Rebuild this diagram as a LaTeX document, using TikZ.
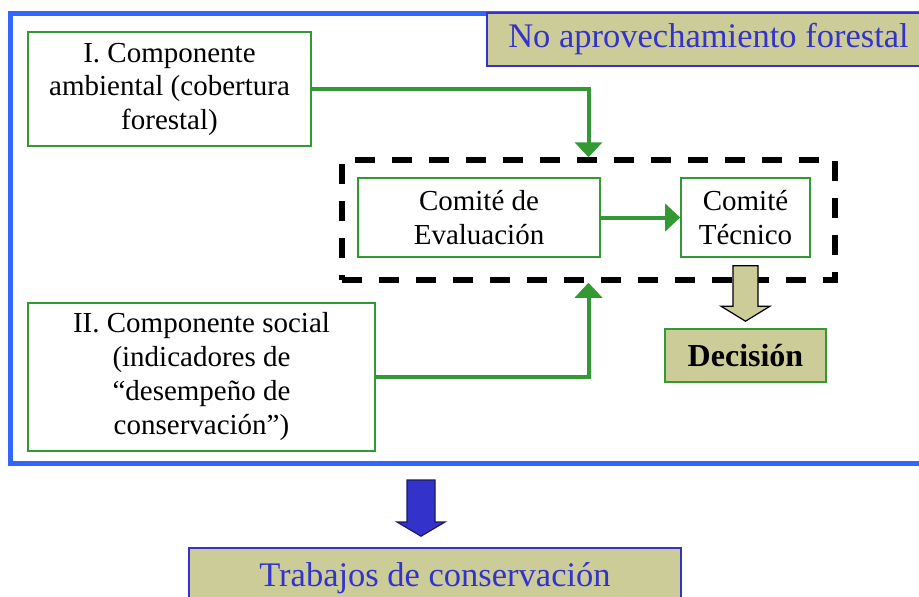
\documentclass[tikz,border=0pt]{standalone}
\usepackage{fontspec}
\setmainfont{Liberation Serif}
\usetikzlibrary{arrows.meta,calc}
\definecolor{grn}{HTML}{339933}
\definecolor{frameblue}{HTML}{3366FF}
\definecolor{txtblue}{HTML}{3333CC}
\definecolor{olive}{HTML}{CCCC99}
\definecolor{navy}{HTML}{1A1A66}
\tikzset{
  gbox/.style={draw=grn, line width=1.6pt, fill=white, inner sep=0pt, align=center,
    font=\fontsize{29}{33.5}\selectfont},
  conn/.style={draw=grn, line width=4pt, -{Triangle[length=15pt,width=27pt]}},
  titlebox/.style={draw=txtblue, line width=1.6pt, fill=olive, inner sep=0pt, align=center,
    text=txtblue, font=\fontsize{34.5}{40}\selectfont},
  decbox/.style={draw=grn, line width=1.6pt, fill=olive, inner sep=0pt,
    font=\fontsize{32}{38}\selectfont\bfseries},
  dashbox/.style={draw=black, line width=5.5pt, dash pattern=on 20pt off 17pt, inner sep=0pt},
  oarrow/.style={draw=black, line width=1.2pt, fill=olive, line join=miter},
  barrow/.style={draw=navy, line width=1.2pt, fill=txtblue, line join=miter}
}
\begin{document}
\begin{tikzpicture}[x=1pt,y=-1pt]
\useasboundingbox (0,0) rectangle (919,597);
\clip (0,0) rectangle (919,597);
% outer blue frame
\draw[frameblue, line width=5pt] (10,13) rectangle (945,463);
% title box
\node[titlebox, minimum width=443pt, minimum height=53pt] (title) at (708.5,39.5) {No aprovechamiento forestal};
% boxes
\node[gbox, minimum width=283pt, minimum height=114pt] (b1) at (169.5,89) {I. Componente\\ambiental (cobertura\\forestal)};
\node[dashbox, minimum width=493pt, minimum height=120pt] (dash) at (588.5,220) {};
\node[gbox, minimum width=242pt, minimum height=79pt] (ce) at (479,217.5) {Comité de\\Evaluación};
\node[gbox, minimum width=129pt, minimum height=79pt] (ct) at (745.5,217.5) {Comité\\Técnico};
\node[gbox, font=\fontsize{29}{34}\selectfont, minimum width=347pt, minimum height=148pt] (b2) at (201.5,377) {II. Componente social\\(indicadores de\\“desempeño de\\conservación”)};
\node[decbox, minimum width=161pt, minimum height=53pt] (dec) at (745.5,355.5) {Decisión};
\node[titlebox, minimum width=492pt, minimum height=60pt] (trab) at (435,578) {Trabajos de conservación};
% connectors
\draw[conn] (b1.east) -| (dash.north);
\draw[conn] (b2.east) -| (dash.south);
\draw[conn] (ce.east) -- (ct.west);
% olive block arrow
\draw[oarrow] ($(ct.south)+(-12.5,8)$) -- ($(ct.south)+(12.5,8)$) -- ($(dec.north)+(12.5,-22)$)
  -- ($(dec.north)+(24.5,-22)$) -- ($(dec.north)+(0,-7)$) -- ($(dec.north)+(-24.5,-22)$)
  -- ($(dec.north)+(-12.5,-22)$) -- cycle;
% blue block arrow
\coordinate (bt) at (421,480);
\draw[barrow] ($(bt)+(-14,0)$) -- ($(bt)+(14,0)$) -- ($(bt)+(14,42)$) -- ($(bt)+(24,42)$)
  -- ($(trab.north)+(-14,-11)$) -- ($(bt)+(-24,42)$) -- ($(bt)+(-14,42)$) -- cycle;
\end{tikzpicture}
\end{document}
